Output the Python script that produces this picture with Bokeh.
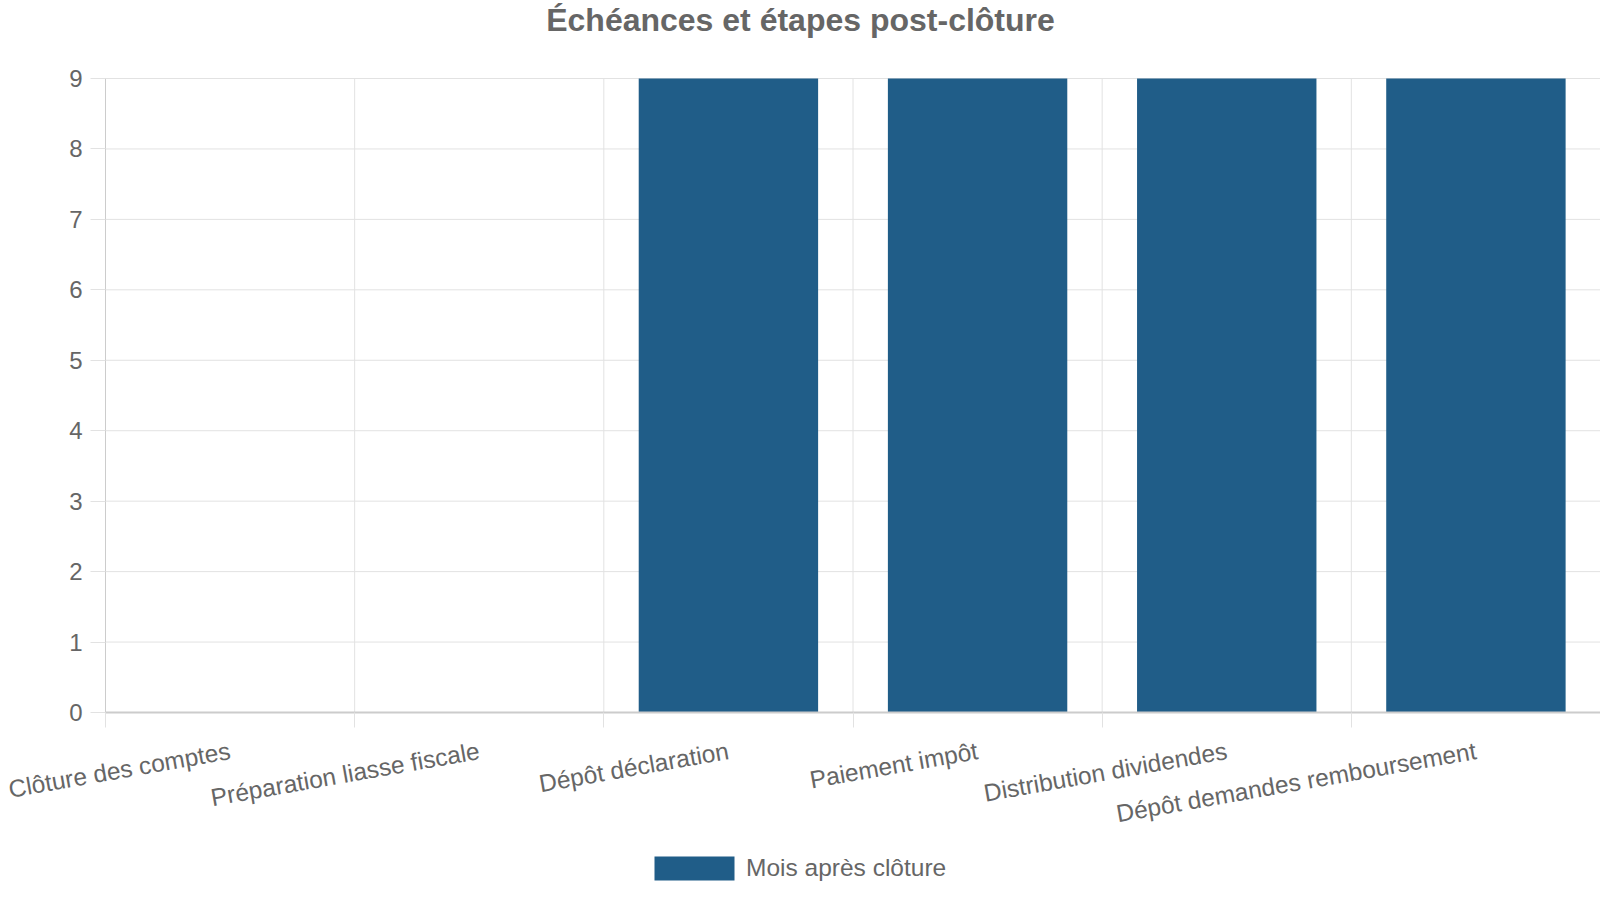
from bokeh.plotting import figure
from bokeh.models import FixedTicker, Range1d, Legend, LegendItem, Label
from bokeh.embed import file_html
from bokeh.resources import INLINE
import math


#chart data
steps = ["Clôture des comptes", "Préparation liasse fiscale", "Dépôt déclaration",
         "Paiement impôt", "Distribution dividendes", "Dépôt demandes remboursement"]
months = [0, 0, 9, 9, 9, 9]
y_ticks = [0, 1, 2, 3, 4, 5, 6, 7, 8, 9]
series_name = "Mois après clôture"
title = "Échéances et étapes post-clôture"

text_color = "#666666"
bar_color = "#205d88"
grid_color = "#e2e2e2"
font = "Liberation Sans"

#page layout: the frame fills the whole page, the bar area sits inside these pixel bounds
W, H = 1600, 900
plot_left, plot_right = 105, 1600
plot_top, plot_bottom = 78, 712
per_px_y = (max(y_ticks) - min(y_ticks)) / (plot_bottom - plot_top)
per_px_x = len(steps) / (plot_right - plot_left)
x_start = -plot_left * per_px_x
x_end = len(steps) + (W - plot_right) * per_px_x
y_start = min(y_ticks) - (H - plot_bottom) * per_px_y
y_end = max(y_ticks) + plot_top * per_px_y

#bar centres and category edges on a numeric axis
centers = [i + 0.5 for i in range(len(steps))]
edges = [i for i in range(len(steps) + 1)]

p = figure(width=W, height=H, output_backend="svg", toolbar_location=None,
           x_range=Range1d(x_start, x_end), y_range=Range1d(y_start, y_end),
           min_border_left=0, min_border_right=0, min_border_top=0, min_border_bottom=0)
p.outline_line_color = None
p.xgrid.visible = False
p.ygrid.visible = False

#grid lines only over the bar area
p.segment(x0=edges, y0=[min(y_ticks)] * len(edges), x1=edges, y1=[max(y_ticks)] * len(edges),
          line_color=grid_color, line_width=1)
p.segment(x0=[0] * len(y_ticks), y0=y_ticks, x1=[len(steps)] * len(y_ticks), y1=y_ticks,
          line_color=grid_color, line_width=1)

bars = p.vbar(x=centers, top=months, width=0.72, fill_color=bar_color, line_color=None)

#x axis pinned at zero
p.xaxis.fixed_location = 0
p.xaxis.bounds = (0, len(steps))
p.xaxis.ticker = FixedTicker(ticks=centers, minor_ticks=edges)
p.xaxis.major_label_overrides = {c: s for c, s in zip(centers, steps)}
p.xaxis.major_label_orientation = math.radians(10)
p.xaxis.major_label_text_font = font
p.xaxis.major_label_text_font_size = "24.5px"
p.xaxis.major_label_text_color = text_color
p.xaxis.major_label_standoff = 23
p.xaxis.major_tick_line_color = None
p.xaxis.major_tick_out = 15
p.xaxis.major_tick_in = 0
p.xaxis.minor_tick_line_color = grid_color
p.xaxis.minor_tick_out = 15
p.xaxis.minor_tick_in = 0
p.xaxis.axis_line_color = "#cccccc"
p.xaxis.axis_line_width = 2

#y axis pinned at the first category edge
p.yaxis.fixed_location = 0
p.yaxis.bounds = (min(y_ticks), max(y_ticks))
p.yaxis.ticker = FixedTicker(ticks=y_ticks)
p.yaxis.major_label_text_font = font
p.yaxis.major_label_text_font_size = "24px"
p.yaxis.major_label_text_color = text_color
p.yaxis.major_label_standoff = 8
p.yaxis.major_tick_line_color = grid_color
p.yaxis.major_tick_out = 15
p.yaxis.major_tick_in = 0
p.yaxis.minor_tick_line_color = None
p.yaxis.axis_line_color = "#cccccc"

#title centred on the page
p.add_layout(Label(x=W / 2, y=H - 19, x_units="screen", y_units="screen", text=title,
                   text_font=font, text_font_size="32px", text_font_style="bold",
                   text_color=text_color, text_align="center", text_baseline="alphabetic"))

#legend at the bottom
legend = Legend(items=[LegendItem(label=series_name, renderers=[bars])],
                location=(644, 17), orientation="horizontal")
legend.glyph_width = 100
legend.glyph_height = 30
legend.label_height = 30
legend.padding = 0
legend.margin = 0
legend.spacing = 0
legend.label_standoff = 2
legend.label_text_font = font
legend.label_text_font_size = "24.5px"
legend.label_text_color = text_color
legend.border_line_color = None
legend.background_fill_alpha = 0
p.add_layout(legend, "center")

open("out.html", "w").write(file_html(p, INLINE))
